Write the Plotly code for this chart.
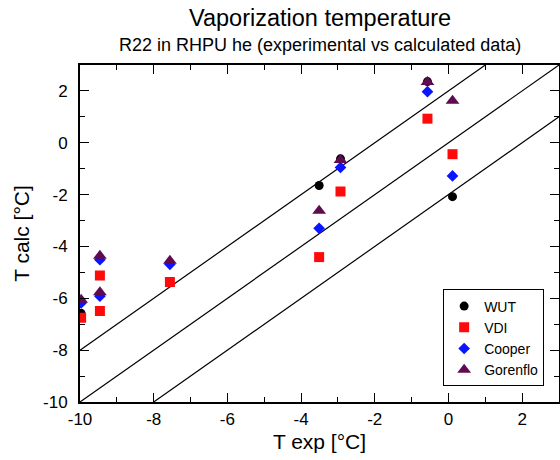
import plotly.graph_objects as go

# Data
wut_x = [-9.97, -3.51, -2.93, -0.57, 0.11]
wut_y = [-6.58, -1.65, -0.62, 2.36, -2.08]

vdi_x = [-9.97, -9.46, -9.46, -7.56, -3.51, -2.93, -0.57, 0.11]
vdi_y = [-6.75, -5.12, -6.49, -5.37, -4.41, -1.88, 0.93, -0.44]

cooper_x = [-9.97, -9.46, -9.46, -7.56, -3.51, -2.93, -0.57, 0.11]
cooper_y = [-6.18, -4.51, -5.92, -4.69, -3.30, -0.95, 1.97, -1.28]

gorenflo_x = [-9.97, -9.46, -9.46, -7.56, -3.51, -2.93, -0.57, 0.11]
gorenflo_y = [-6.06, -4.36, -5.77, -4.55, -2.62, -0.66, 2.34, 1.62]

line_offsets = [2, 0, -2]
line_x = [-10, 3]

x_ticks = [-10, -8, -6, -4, -2, 0, 2]
y_ticks = [-10, -8, -6, -4, -2, 0, 2]

FONT = "Liberation Sans, Arial, sans-serif"

fig = go.Figure()

for off in line_offsets:
    fig.add_trace(go.Scatter(
        x=line_x, y=[v + off for v in line_x], mode="lines",
        line=dict(color="black", width=1.2), showlegend=False, hoverinfo="skip"))

fig.add_trace(go.Scatter(x=wut_x, y=wut_y, mode="markers", name="WUT",
                         marker=dict(symbol="circle", size=9, color="black")))
fig.add_trace(go.Scatter(x=vdi_x, y=vdi_y, mode="markers", name="VDI",
                         marker=dict(symbol="square", size=10, color="#ff0a0a")))
fig.add_trace(go.Scatter(x=cooper_x, y=cooper_y, mode="markers", name="Cooper",
                         marker=dict(symbol="diamond", size=9, color="#0a14ff")))
fig.add_trace(go.Scatter(x=gorenflo_x, y=gorenflo_y, mode="markers", name="Gorenflo",
                         marker=dict(symbol="triangle-up", size=12, color="#600a50")))

axis_common = dict(
    showgrid=False, zeroline=False, showline=True, linecolor="black", linewidth=2,
    mirror="ticks", ticks="inside", ticklen=9, tickwidth=1, tickcolor="black",
    tickfont=dict(family=FONT, size=17, color="black"), automargin=False,
    minor=dict(ticks="inside", ticklen=5, dtick=1, tickcolor="black", tickwidth=1),
)

fig.update_layout(
    width=560, height=460,
    margin=dict(l=80, r=1, t=65, b=58),
    paper_bgcolor="white", plot_bgcolor="white",
    font=dict(family=FONT, color="black"),
    xaxis=dict(range=[-10, 3], tickvals=x_ticks, ticktext=[str(v) for v in x_ticks],
               ticklabelstandoff=1,
               title=dict(text="T exp [°C]", font=dict(size=21), standoff=6),
               **axis_common),
    yaxis=dict(range=[-10, 3], tickvals=y_ticks, ticktext=[str(v) for v in y_ticks],
               ticklabelstandoff=7,
               title=dict(text="T calc [°C]", font=dict(size=21), standoff=8),
               **axis_common),
    legend=dict(x=0.969, y=0.046, xanchor="right", yanchor="bottom",
                bordercolor="black", borderwidth=1, bgcolor="white",
                font=dict(family=FONT, size=14, color="black"),
                itemsizing="trace", tracegroupgap=0, itemwidth=30),
    showlegend=True,
    hovermode=False,
    annotations=[
        dict(text="Vaporization temperature", x=0.5, y=1, xref="paper", yref="paper",
             xanchor="center", yanchor="middle", yshift=47, showarrow=False,
             font=dict(family=FONT, size=23.5, color="black")),
        dict(text="R22 in RHPU he (experimental vs calculated data)", x=0.5, y=1,
             xref="paper", yref="paper", xanchor="center", yanchor="middle",
             yshift=20, showarrow=False, font=dict(family=FONT, size=18, color="black")),
    ],
)

# remove the page's default body margin so the 560x460 figure fills the window
fig.write_html("out.html", config={"displayModeBar": False},
               post_script="document.body.style.margin='0px';")
